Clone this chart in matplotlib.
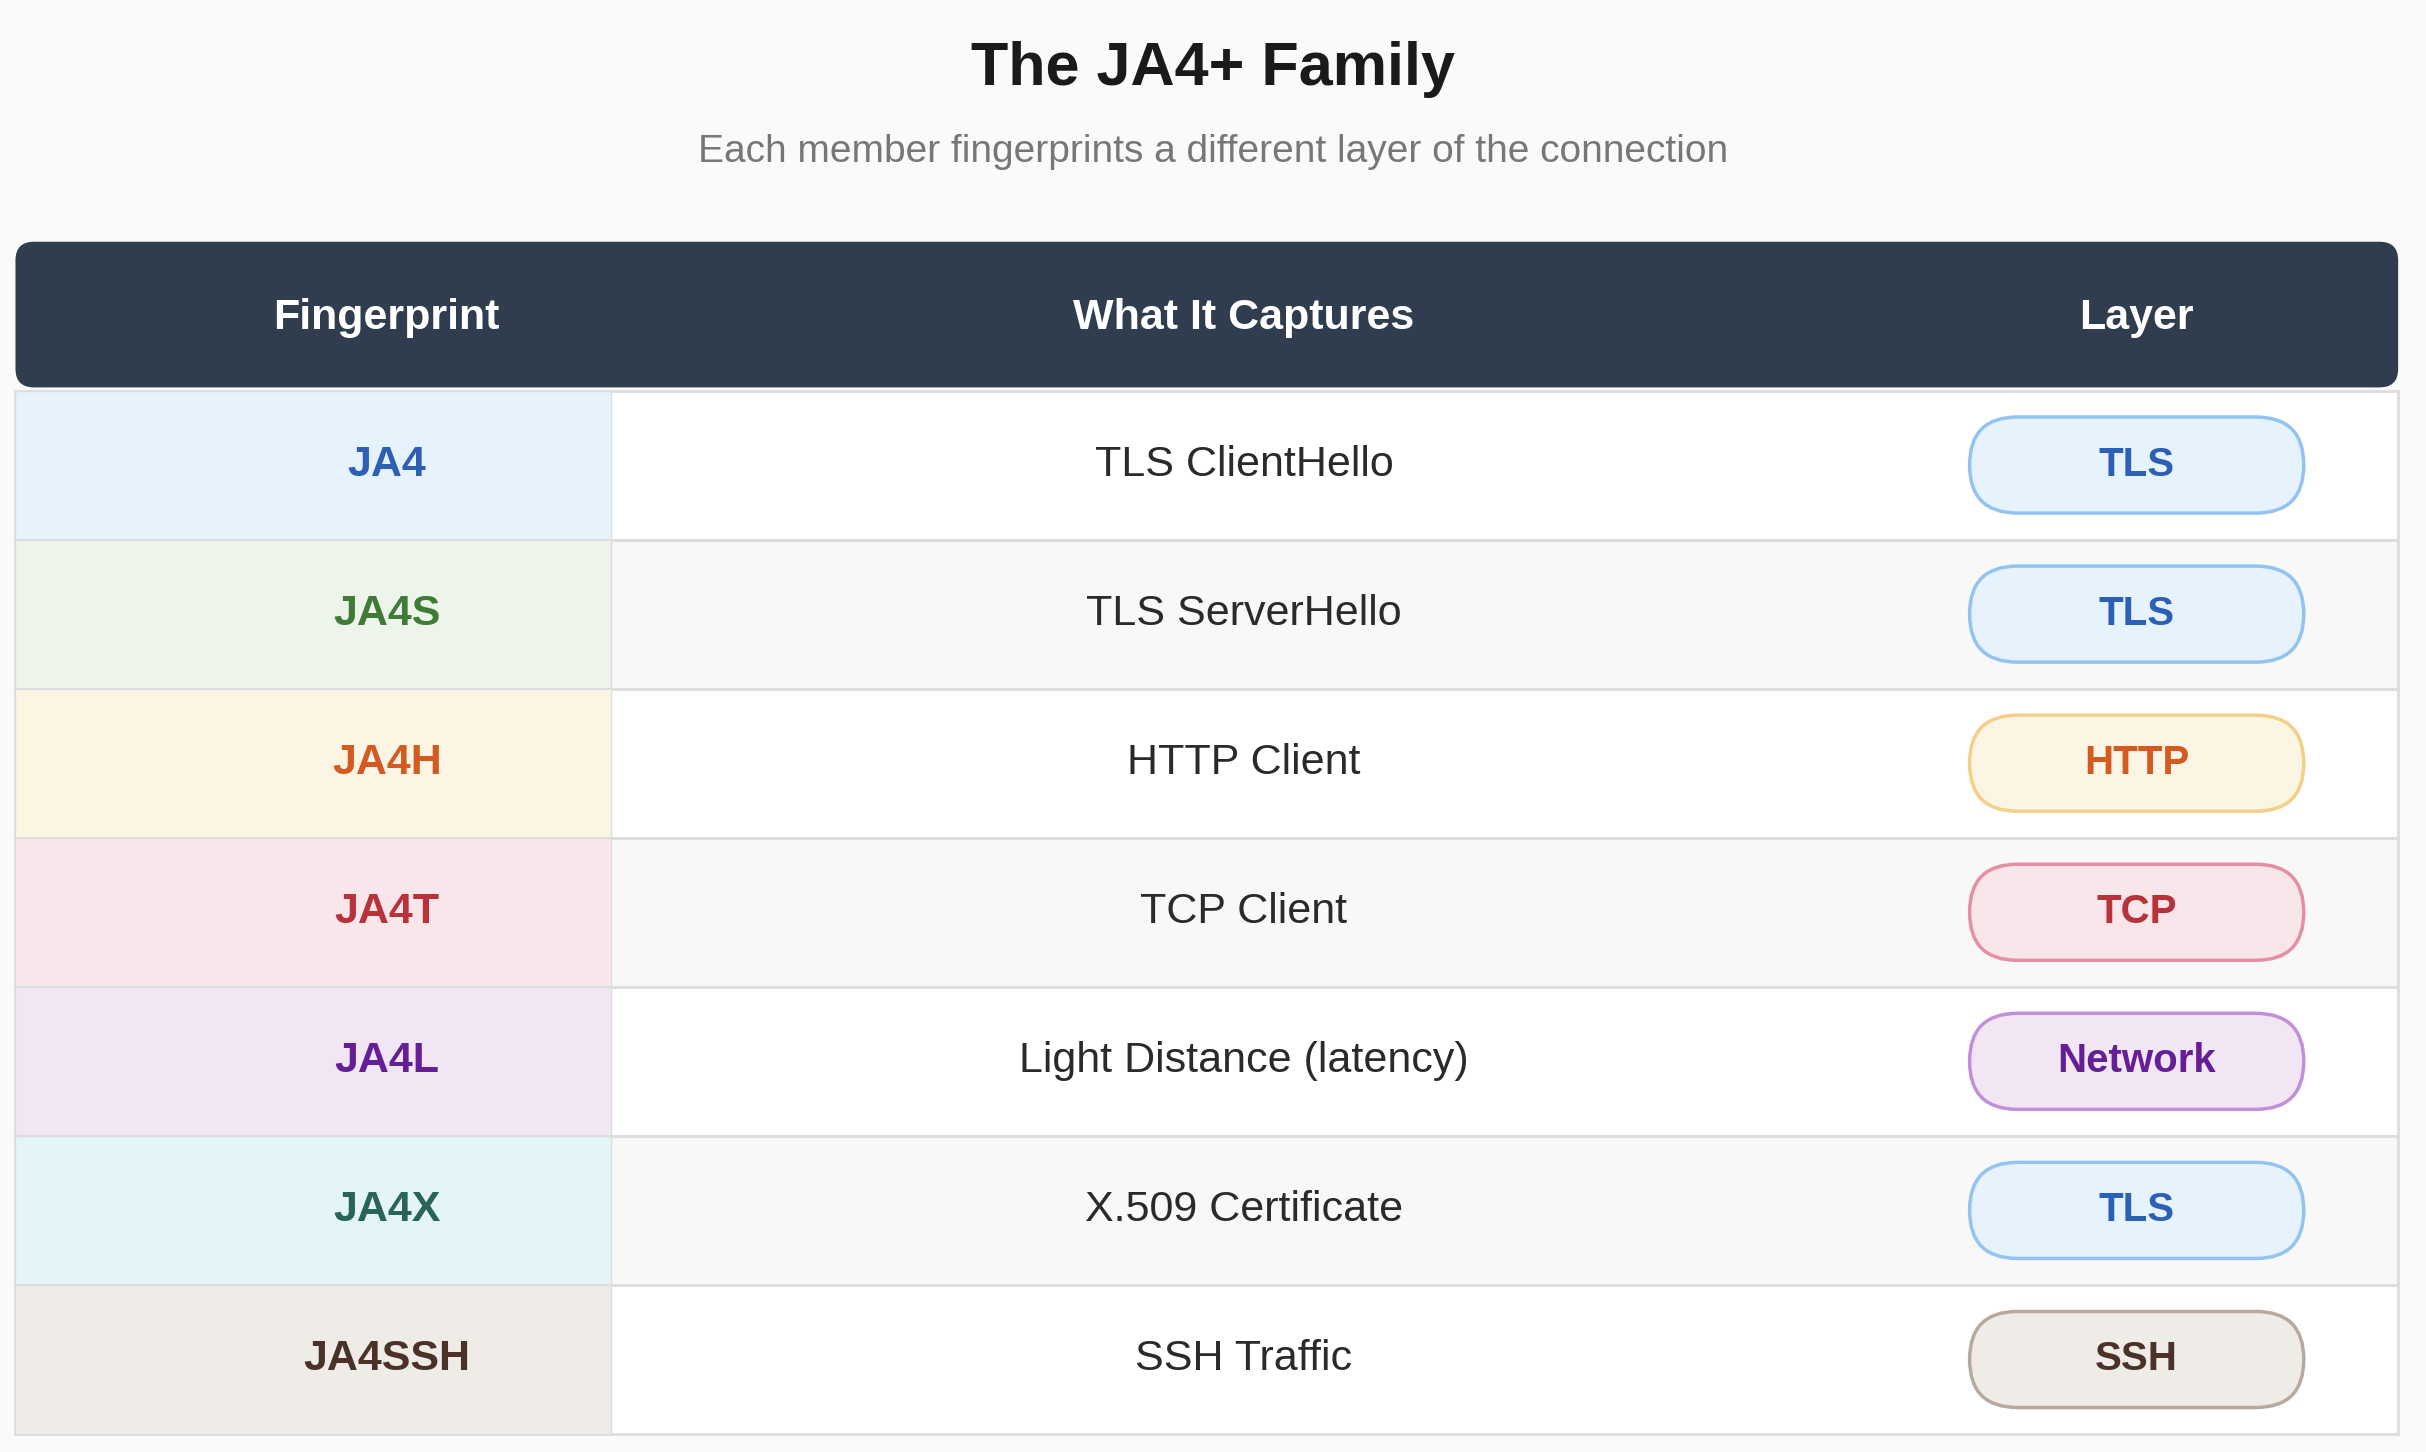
import matplotlib
matplotlib.use("Agg")
import matplotlib.pyplot as plt
from matplotlib.patches import FancyBboxPatch, Rectangle

plt.rcParams['font.family'] = ['Liberation Sans', 'DejaVu Sans']

fingerprints = ['JA4', 'JA4S', 'JA4H', 'JA4T', 'JA4L', 'JA4X', 'JA4SSH']
captures = ['TLS ClientHello', 'TLS ServerHello', 'HTTP Client', 'TCP Client',
            'Light Distance (latency)', 'X.509 Certificate', 'SSH Traffic']
layers = ['TLS', 'TLS', 'HTTP', 'TCP', 'Network', 'TLS', 'SSH']
headers = ['Fingerprint', 'What It Captures', 'Layer']

fp_fill = ['#e6f2fc', '#edf5ea', '#fdf5e4', '#f9e6ea', '#f2e6f4', '#e3f5f9', '#efebe7']
fp_text = ['#2d5fb5', '#3f7a36', '#d35b22', '#b9313a', '#641f96', '#2a6358', '#4a3229']
layer_style = {
    'TLS': ('#e6f2fc', '#93c3f0', '#2d5fb5'),
    'HTTP': ('#fdf5e4', '#f3cf88', '#d35b22'),
    'TCP': ('#f9e6ea', '#e58fa5', '#b9313a'),
    'Network': ('#f2e6f4', '#c190d8', '#641f96'),
    'SSH': ('#efebe7', '#b8a9a0', '#4a3229'),
}

W, H = 1568, 937
fig = plt.figure(figsize=(24.26, 14.52), dpi=100, facecolor='#fafafa')
ax = fig.add_axes([0, 0, 1, 1])
ax.set_xlim(0, W)
ax.set_ylim(H, 0)
ax.axis('off')

ax.text(W / 2, 45, 'The JA4+ Family', ha='center', va='center',
        fontsize=44, fontweight='bold', color='#1a1a1a')
ax.text(W / 2, 98, 'Each member fingerprints a different layer of the connection',
        ha='center', va='center', fontsize=28, color='#777777')

left, right = 10, 1550
col1 = 395
cx = [250, 804, 1381]

# header
ax.add_patch(FancyBboxPatch((left, 156), right - left, 94,
                            boxstyle='round,pad=0,rounding_size=12',
                            fc='#2f3d4f', ec='none'))
for x, h in zip(cx, headers):
    ax.text(x, 205, h, ha='center', va='center', fontsize=31,
            fontweight='bold', color='white')

top, rh = 252, 96.2
for i in range(len(fingerprints)):
    y0 = top + i * rh
    yc = y0 + rh / 2
    bg = 'white' if i % 2 == 0 else '#f8f8f8'
    ax.add_patch(Rectangle((left, y0), right - left, rh, fc=bg, ec='#dddddd', lw=2))
    ax.add_patch(Rectangle((left, y0), col1 - left, rh, fc=fp_fill[i], ec='#dddddd', lw=1))
    ax.text(cx[0], yc, fingerprints[i], ha='center', va='center', fontsize=31,
            fontweight='bold', color=fp_text[i])
    ax.text(cx[1], yc, captures[i], ha='center', va='center', fontsize=31,
            color='#2a2a2a')
    fc, ec, tc = layer_style[layers[i]]
    pw, ph = 216, 62
    ax.add_patch(FancyBboxPatch((cx[2] - pw / 2, yc - ph / 2), pw, ph,
                                boxstyle='round,pad=0,rounding_size=31',
                                fc=fc, ec=ec, lw=2.5, mutation_aspect=1))
    ax.text(cx[2], yc, layers[i], ha='center', va='center', fontsize=29,
            fontweight='bold', color=tc)

fig.savefig('out.png', dpi=100, facecolor=fig.get_facecolor())
